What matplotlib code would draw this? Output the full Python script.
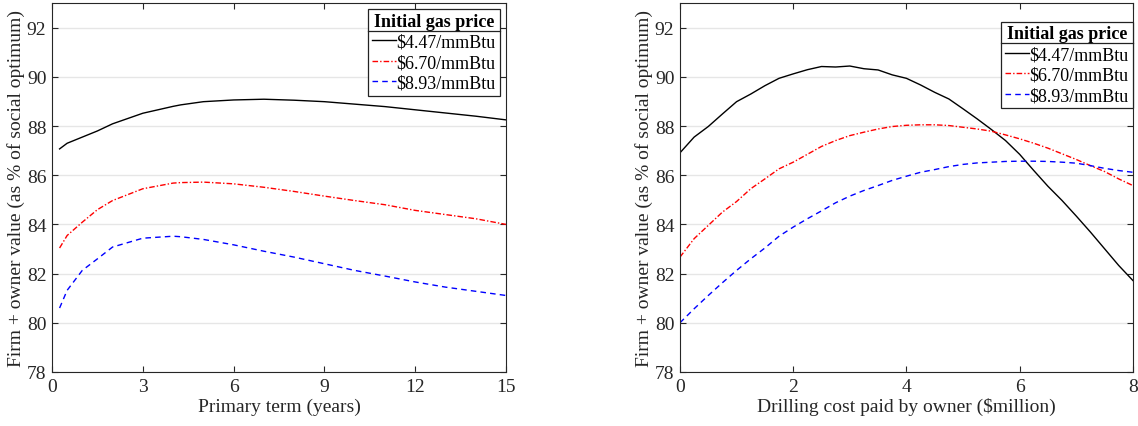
import matplotlib
matplotlib.use("Agg")
import matplotlib.pyplot as plt
from matplotlib.lines import Line2D

plt.rcParams["font.family"] = ["Liberation Serif", "DejaVu Serif"]

# --- donnees ---
terme = [0.25, 0.5, 1, 1.5, 2, 3, 4, 4.25, 5, 6, 7, 8, 9, 10, 11, 12, 13, 14, 15]
terme_447 = [87.07, 87.3, 87.55, 87.8, 88.09, 88.52, 88.8, 88.86, 88.99, 89.06,
             89.09, 89.05, 88.99, 88.89, 88.79, 88.66, 88.53, 88.4, 88.25]
terme_670 = [83.04, 83.55, 84.09, 84.6, 84.97, 85.45, 85.68, 85.7, 85.72, 85.65,
             85.51, 85.34, 85.15, 84.97, 84.8, 84.57, 84.4, 84.23, 84.0]
terme_893 = [80.6, 81.32, 82.13, 82.6, 83.08, 83.44, 83.52, 83.5, 83.39, 83.17,
             82.91, 82.67, 82.4, 82.13, 81.9, 81.66, 81.45, 81.28, 81.11]

cout = [0, 0.25, 0.5, 0.75, 1, 1.25, 1.5, 1.75, 2, 2.25, 2.5, 2.75, 3, 3.25, 3.5,
        3.75, 4, 4.25, 4.5, 4.75, 5, 5.25, 5.5, 5.75, 6, 6.25, 6.5, 6.75, 7, 7.25,
        7.5, 7.75, 8]
cout_447 = [86.91, 87.55, 87.98, 88.49, 88.99, 89.3, 89.64, 89.94, 90.12, 90.29,
            90.42, 90.4, 90.44, 90.33, 90.28, 90.08, 89.94, 89.67, 89.37, 89.1,
            88.7, 88.29, 87.86, 87.41, 86.85, 86.19, 85.55, 84.97, 84.34, 83.69,
            83.01, 82.33, 81.72]
cout_670 = [82.67, 83.42, 83.96, 84.5, 84.93, 85.45, 85.85, 86.26, 86.53, 86.85,
            87.17, 87.41, 87.61, 87.75, 87.88, 87.98, 88.03, 88.05, 88.05, 88.02,
            87.95, 87.88, 87.79, 87.64, 87.48, 87.3, 87.1, 86.87, 86.64, 86.39,
            86.15, 85.85, 85.58]
cout_893 = [80.0, 80.57, 81.11, 81.63, 82.13, 82.6, 83.04, 83.52, 83.89, 84.23,
            84.55, 84.88, 85.15, 85.38, 85.58, 85.79, 85.96, 86.12, 86.23, 86.35,
            86.44, 86.5, 86.53, 86.56, 86.57, 86.57, 86.56, 86.53, 86.49, 86.39,
            86.28, 86.19, 86.12]

prix = ["\\$4.47/mmBtu", "\\$6.70/mmBtu", "\\$8.93/mmBtu"]
yticks = [78, 80, 82, 84, 86, 88, 90, 92]

STYLES = [dict(color="black", ls="-"),
          dict(color="red", ls=(0, (4, 1.5, 1, 1.5))),
          dict(color="blue", ls=(0, (4, 3)))]
GRIS = "#262626"

fig = plt.figure(figsize=(11.38, 4.27), dpi=100)
axg = fig.add_axes([0.0457, 0.1265, 0.399, 0.864])
axd = fig.add_axes([0.5975, 0.1265, 0.398, 0.864])


def trace(ax, x, series, xlim, xticks, xlabel, ancre):
    for y, st, lab in zip(series, STYLES, prix):
        ax.plot(x, y, lw=1.0, label=lab, **st)
    ax.set_xlim(*xlim)
    ax.set_ylim(78, 93)
    ax.set_xticks(xticks)
    ax.set_yticks(yticks)
    ax.grid(axis="y", color="#e6e6e6", lw=1.0)
    ax.set_axisbelow(True)
    ax.tick_params(direction="in", top=True, right=True, labelsize=14,
                   colors=GRIS, length=4, width=0.8, pad=4)
    for s in ax.spines.values():
        s.set_color(GRIS)
        s.set_linewidth(0.8)
    ax.set_xlabel(xlabel, fontsize=14, color=GRIS, labelpad=2)
    ax.set_ylabel("Firm + owner value (as % of social optimum)", fontsize=14,
                  color=GRIS, labelpad=1)
    leg = ax.legend(title="Initial gas price", loc="upper right",
                    bbox_to_anchor=ancre, fontsize=13,
                    title_fontproperties={"weight": "bold", "size": 13},
                    frameon=True, fancybox=False, edgecolor="#222222",
                    framealpha=1, handlelength=1.3, handletextpad=0.05,
                    borderpad=0.22, labelspacing=0.2, borderaxespad=0)
    leg.get_frame().set_linewidth(0.9)
    return leg


lg = trace(axg, terme, [terme_447, terme_670, terme_893], (0, 15),
           [0, 3, 6, 9, 12, 15], "Primary term (years)", (0.986, 0.984))
ld = trace(axd, cout, [cout_447, cout_670, cout_893], (0, 8),
           [0, 2, 4, 6, 8], "Drilling cost paid by owner (\\$million)", (1.0, 0.95))

# trait sous le titre de la legende, comme dans MATLAB
fig.canvas.draw()
inv = fig.transFigure.inverted()
for leg in (lg, ld):
    bb = leg.get_window_extent()
    tb = leg.get_title().get_window_extent()
    y = tb.y0 - 1
    (x0, yf), (x1, _) = inv.transform([(bb.x0, y), (bb.x1, y)])
    fig.add_artist(Line2D([x0, x1], [yf, yf], color="#222222", lw=0.9))

fig.savefig("out.png", dpi=100)
